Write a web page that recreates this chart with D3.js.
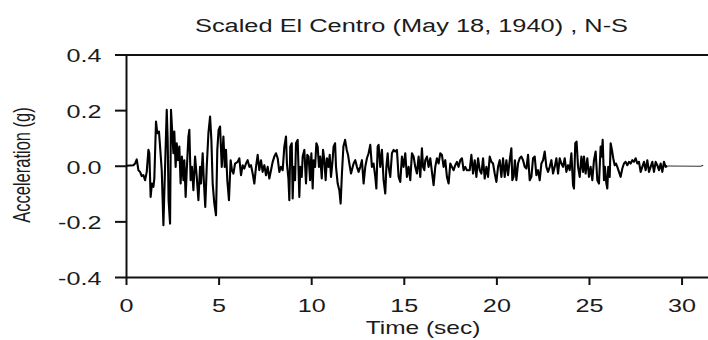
<!DOCTYPE html>
<html>
<head>
<meta charset="utf-8">
<script src="https://cdn.jsdelivr.net/npm/d3@7.9.0/dist/d3.min.js"></script>
<style>
  html, body { margin: 0; padding: 0; background: #fff; }
  svg { display: block; }
  text { font-family: "Liberation Sans", Arial, sans-serif; fill: #1b1b1b; }
</style>
</head>
<body>
<svg id="chart" width="708" height="340"></svg>
<script>
const title = "Scaled El Centro (May 18, 1940) , N-S";
const xLabel = "Time (sec)";
const yLabel = "Acceleration (g)";

const xTicks = [0, 5, 10, 15, 20, 25, 30];
const yTicks = [-0.4, -0.2, 0.0, 0.2, 0.4];
const yTickLabels = ["-0.4", "-0.2", "0.0", "0.2", "0.4"];

// time (sec)
const time = [
  0.00,0.22,0.40,0.49,0.58,0.67,0.76,0.85,0.94,1.03,
  1.12,1.21,1.26,1.33,1.40,1.48,1.53,1.62,1.69,1.78,
  1.84,1.93,2.02,2.11,2.20,2.25,2.30,2.38,2.43,2.50,
  2.56,2.61,2.68,2.74,2.81,2.88,2.95,3.02,3.10,3.15,
  3.22,3.28,3.37,3.42,3.49,3.56,3.64,3.73,3.82,3.91,
  4.00,4.05,4.14,4.21,4.28,4.36,4.45,4.54,4.61,4.68,
  4.77,4.86,4.93,5.00,5.08,5.17,5.26,5.33,5.40,5.47,
  5.56,5.65,5.72,5.80,5.89,
  6.03,6.12,6.21,6.30,6.39,6.48,6.57,6.66,6.75,6.84,
  6.93,7.02,7.11,7.20,7.29,7.38,7.47,7.56,7.65,7.74,
  7.83,7.92,8.01,8.10,8.19,8.28,8.37,8.46,8.55,8.64,
  8.69,8.77,8.82,8.87,8.95,9.00,9.05,9.13,9.18,9.27,
  9.36,9.41,9.49,9.54,9.63,9.72,9.79,9.86,9.94,10.01,
  10.08,10.13,10.21,10.28,10.35,10.42,10.49,10.57,10.64,10.71,
  10.78,10.85,10.93,11.00,11.07,11.14,11.21,11.29,11.34,11.43,
  11.52,11.59,11.66,11.74,11.83,11.92,11.99,12.06,12.15,
  12.29,12.38,12.47,12.56,12.65,12.74,12.83,12.92,13.01,13.10,
  13.19,13.28,13.37,13.46,13.52,13.59,13.64,13.73,13.82,13.91,
  14.00,14.06,14.13,14.18,14.27,14.36,14.45,14.54,14.63,14.72,
  14.81,14.90,14.99,15.08,15.17,15.26,15.35,15.44,15.53,15.62,
  15.71,15.80,15.89,15.98,16.04,16.11,16.16,16.25,16.34,16.43,
  16.52,16.61,16.70,16.79,16.88,16.97,17.06,17.15,17.24,17.33,
  17.42,17.51,17.60,17.69,17.78,17.87,17.96,18.05,18.14,18.23,
  18.32,18.41,
  18.56,18.65,18.74,18.83,18.92,19.01,19.10,19.19,19.28,19.37,
  19.46,19.55,19.64,19.73,19.82,19.91,20.00,20.09,20.18,20.27,
  20.36,20.45,20.54,20.63,20.72,20.81,20.86,20.93,21.00,21.08,
  21.17,21.26,21.35,21.44,21.53,21.62,21.71,21.80,21.89,21.98,
  22.07,22.16,22.25,22.34,22.43,22.52,22.61,22.70,22.79,22.88,
  22.97,23.06,23.15,23.24,23.33,23.42,23.51,23.60,23.69,23.78,
  23.87,23.96,24.05,24.14,24.19,24.26,24.33,24.41,24.50,24.59,
  24.68,
  24.73,24.82,24.91,25.00,25.09,25.18,25.27,25.36,25.45,25.54,
  25.63,25.68,25.74,25.81,25.86,25.94,25.99,26.04,26.12,26.17,
  26.24,26.31,26.39,26.46,26.53,26.62,26.71,26.80,26.89,26.98,
  27.07,27.16,27.25,27.34,27.43,27.52,27.61,27.70,27.79,27.88,
  27.97,28.06,28.15,28.24,28.33,28.42,28.51,28.60,28.69,28.78,
  28.87,28.96,29.05,29.14,29.23,31.03,31.17
];

// acceleration (g), same order as time
const accel = [
  0.000,0.001,0.002,0.008,0.023,-0.016,-0.022,-0.037,-0.034,-0.052,
  -0.022,0.057,0.045,-0.112,-0.064,-0.076,-0.046,0.159,0.117,0.123,
  0.069,-0.016,-0.214,-0.004,0.201,0.093,-0.124,-0.208,0.201,0.117,
  0.045,0.123,-0.004,0.081,0.020,0.069,-0.064,0.033,-0.052,0.020,
  -0.112,-0.016,0.105,0.129,-0.052,-0.004,-0.088,0.033,-0.040,-0.124,
  -0.004,-0.064,0.045,-0.064,-0.148,-0.004,0.117,0.177,0.093,-0.064,
  -0.136,-0.178,0.057,0.129,0.141,-0.004,0.105,-0.004,0.057,-0.052,
  -0.124,0.020,-0.016,-0.028,0.008,
  0.014,0.027,-0.034,0.002,-0.010,0.008,0.020,-0.004,0.002,-0.028,
  -0.064,-0.004,0.039,-0.016,0.020,-0.022,0.002,-0.034,-0.004,-0.046,
  -0.016,0.014,0.033,0.045,0.027,-0.022,-0.004,-0.016,0.069,0.105,
  0.008,-0.046,-0.124,0.069,0.081,-0.118,-0.004,-0.052,0.081,0.093,
  -0.112,-0.004,-0.040,0.033,0.057,-0.064,0.039,0.033,-0.052,0.045,
  -0.082,0.020,-0.004,0.081,0.069,-0.004,0.033,-0.046,0.057,0.020,
  -0.052,0.027,-0.004,0.039,-0.040,0.008,0.069,0.081,-0.004,-0.064,
  -0.088,-0.136,-0.028,0.069,0.093,0.057,0.039,0.008,-0.028,
  0.008,0.020,-0.004,-0.022,-0.004,0.020,-0.064,-0.004,0.027,0.045,
  0.075,-0.004,0.008,-0.040,-0.082,0.069,0.075,-0.004,0.057,-0.052,
  -0.100,-0.004,0.045,-0.004,-0.040,0.045,0.057,0.051,0.057,-0.040,
  -0.058,0.033,-0.004,0.045,-0.040,-0.004,-0.052,0.045,0.033,-0.004,
  -0.028,0.033,-0.040,0.063,-0.004,-0.016,0.020,0.033,-0.004,0.027,
  -0.022,-0.070,-0.004,0.027,0.008,0.045,0.039,-0.004,0.020,-0.040,
  -0.064,0.008,-0.004,-0.016,0.002,0.014,-0.004,0.020,0.027,-0.016,
  -0.004,-0.016,
  -0.016,0.039,-0.028,0.020,-0.040,0.027,-0.016,-0.028,0.027,-0.046,
  -0.004,-0.040,0.033,0.014,0.008,-0.028,-0.058,-0.004,0.020,-0.040,
  0.027,-0.040,0.020,-0.034,0.020,0.063,-0.052,-0.040,0.020,-0.052,
  0.008,0.027,0.033,0.020,-0.004,-0.010,0.039,-0.052,-0.040,0.027,
  0.033,-0.034,-0.016,-0.052,0.008,0.020,0.051,-0.004,-0.022,-0.004,
  0.020,-0.028,-0.004,0.027,-0.028,0.027,0.008,-0.004,0.027,-0.022,
  0.002,-0.016,0.045,-0.070,-0.082,0.081,0.087,-0.004,-0.040,0.033,
  -0.022,
  0.033,-0.028,0.027,-0.040,-0.004,-0.052,0.020,0.051,-0.052,-0.064,
  0.069,0.033,0.093,-0.052,-0.004,-0.064,-0.082,-0.004,-0.040,0.081,
  0.057,0.027,0.002,0.008,-0.004,-0.022,-0.040,-0.010,0.008,0.014,
  0.002,0.014,0.008,0.020,0.014,0.027,0.008,0.014,-0.022,-0.004,
  0.014,-0.016,0.020,-0.022,-0.004,0.014,-0.022,0.014,0.002,-0.016,
  0.008,-0.022,0.014,-0.004,-0.001,-0.002,0.002
];

const W = 708, H = 340;
const plotLeft = 126, plotRight = 707.5, plotTop = 54.5, plotBottom = 277;
const stretch = 1.4; // the source picture is widened, so text is too

const svg = d3.select("#chart");

const x = d3.scaleLinear().domain([0, 31.4]).range([plotLeft, plotRight]);
const y = d3.scaleLinear().domain([-0.4, 0.4]).range([plotBottom, plotTop]);

// top frame line
svg.append("line")
  .attr("x1", x(0)).attr("x2", W)
  .attr("y1", y(0.4) + 0.5).attr("y2", y(0.4) + 0.5)
  .attr("stroke", "#111").attr("stroke-width", 2);

const yAxis = svg.append("g")
  .attr("transform", `translate(${plotLeft},0)`)
  .call(d3.axisLeft(y).tickValues(yTicks).tickFormat((d, i) => yTickLabels[i])
    .tickSize(11).tickSizeOuter(0));

const xAxis = svg.append("g")
  .attr("transform", `translate(0,${plotBottom})`)
  .call(d3.axisBottom(x).tickValues(xTicks).tickSize(8).tickSizeOuter(0));

for (const g of [yAxis, xAxis]) {
  g.attr("font-size", null).attr("font-family", null);
  g.selectAll("path, line").attr("stroke", "#111").attr("stroke-width", 2);
  g.selectAll("text").style("font-size", "18px");
}

yAxis.selectAll("text")
  .attr("x", null).attr("dy", "0.36em")
  .attr("transform", `translate(-24.5,1) scale(${stretch},1)`);

xAxis.selectAll("text")
  .attr("y", null).attr("dy", null)
  .attr("transform", `translate(0,35) scale(${stretch},1)`);

// trace
const pts = d3.zip(time, accel);
const line = d3.line().x(d => x(d[0])).y(d => y(d[1]));

svg.append("path")
  .datum(pts.filter(d => d[0] <= 29.23))
  .attr("d", line)
  .attr("fill", "none")
  .attr("stroke", "#000")
  .attr("stroke-width", 2.1)
  .attr("stroke-linejoin", "round");

svg.append("path")
  .datum(pts.filter(d => d[0] >= 29.23))
  .attr("d", line)
  .attr("fill", "none")
  .attr("stroke", "#333")
  .attr("stroke-width", 1.1);

// labels
svg.append("text")
  .attr("text-anchor", "middle")
  .attr("transform", `translate(411.5,31.5) scale(1.41,1)`)
  .style("font-size", "18px")
  .text(title);

svg.append("text")
  .attr("text-anchor", "middle")
  .attr("transform", `translate(423,334) scale(${stretch},1)`)
  .style("font-size", "17.5px")
  .text(xLabel);

svg.append("text")
  .attr("text-anchor", "middle")
  .attr("transform", `translate(30,165) scale(${stretch},1) rotate(-90)`)
  .style("font-size", "16.5px")
  .text(yLabel);
</script>
</body>
</html>
